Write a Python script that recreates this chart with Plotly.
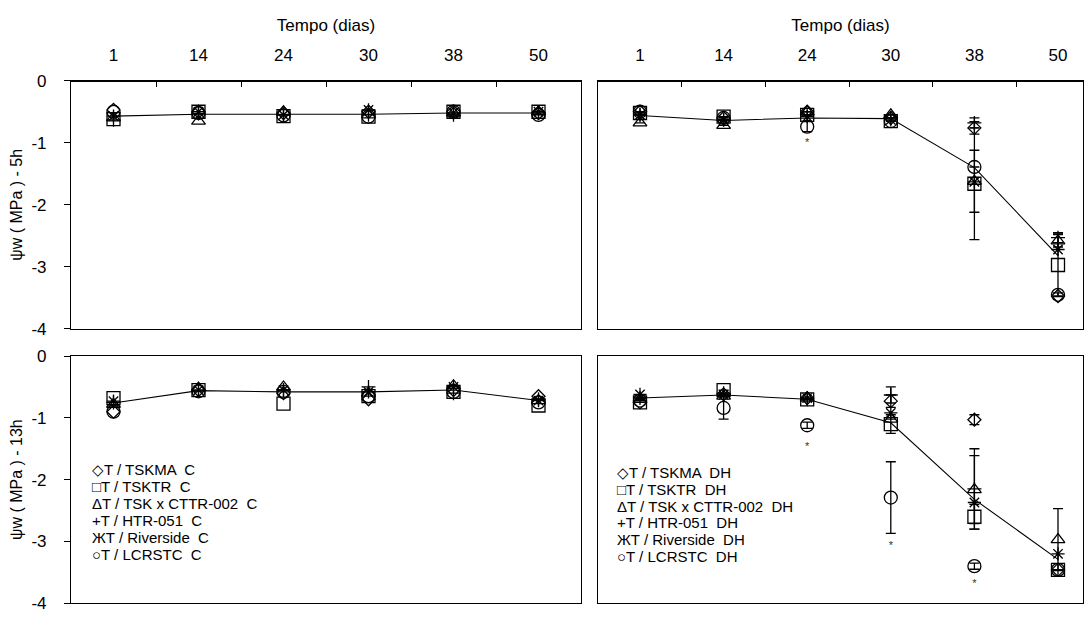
import plotly.graph_objects as go

W, H = 1088, 621
FONT = "Liberation Sans"

days = ["1", "14", "24", "30", "38", "50"]
names = ["T / TSKMA", "T / TSKTR", "T / TSK x CTTR-002", "T / HTR-051", "T / Riverside", "T / LCRSTC"]
legend_glyphs = ["◇", "□", "Δ", "+", "Ж", "○"]
symbols = ["diamond-open", "square-open", "triangle-up-open", "cross-thin-open", "asterisk-open", "circle-open"]
symbol_sizes = [10, 13, 12, 10, 11, 13]
y_ticks = [0, -1, -2, -3, -4]
y_tick_labels = ["0", "-1", "-2", "-3", "-4"]

# ---- 5h, control (C)
tskma_5c = [-0.47, -0.50, -0.52, -0.50, -0.50, -0.52]
tsktr_5c = [-0.62, -0.50, -0.57, -0.58, -0.50, -0.50]
tskx_5c = [-0.60, -0.65, -0.50, -0.55, -0.52, -0.50]
htr_5c = [-0.63, -0.53, -0.55, -0.55, -0.55, -0.52]
river_5c = [-0.57, -0.50, -0.55, -0.47, -0.52, -0.50]
lcr_5c = [-0.50, -0.52, -0.56, -0.58, -0.50, -0.55]
mean_5c = [-0.57, -0.54, -0.54, -0.54, -0.52, -0.52]

# ---- 5h, water deficit (DH)
tskma_5d = [-0.50, -0.60, -0.50, -0.60, -0.76, -3.47]
tsktr_5d = [-0.52, -0.58, -0.55, -0.65, -1.66, -2.97]
tskx_5d = [-0.68, -0.72, -0.50, -0.55, -1.62, -2.58]
htr_5d = [-0.55, -0.63, -0.55, -0.60, -0.68, -2.53]
river_5d = [-0.55, -0.63, -0.58, -0.63, -1.63, -2.72]
lcr_5d = [-0.50, -0.60, -0.74, -0.65, -1.39, -3.45]
mean_5d = [-0.56, -0.64, -0.60, -0.61, -1.40, -2.82]
err_tskma_5d = [0, 0, 0, 0, 0.10, 0]
err_tsktr_5d = [0, 0, 0, 0, 0.90, 0.50]
err_tskx_5d = [0, 0, 0, 0, 0.50, 0.10]
err_htr_5d = [0, 0, 0, 0, 0.08, 0.08]
err_river_5d = [0, 0, 0, 0, 0, 0]
err_lcr_5d = [0, 0, 0.08, 0, 0, 0.03]
sig_5d_days = ["24"]
sig_5d_y = [-1.00]

# ---- 13h, control (C)
tskma_13c = [-0.90, -0.55, -0.60, -0.70, -0.55, -0.65]
tsktr_13c = [-0.68, -0.55, -0.77, -0.65, -0.58, -0.80]
tskx_13c = [-0.78, -0.52, -0.50, -0.60, -0.48, -0.72]
htr_13c = [-0.75, -0.55, -0.55, -0.50, -0.60, -0.70]
river_13c = [-0.73, -0.55, -0.55, -0.58, -0.50, -0.72]
lcr_13c = [-0.90, -0.57, -0.58, -0.65, -0.58, -0.75]
mean_13c = [-0.76, -0.56, -0.58, -0.58, -0.55, -0.72]

# ---- 13h, water deficit (DH)
tskma_13d = [-0.75, -0.62, -0.68, -0.73, -1.03, -3.46]
tsktr_13d = [-0.75, -0.55, -0.70, -1.10, -2.60, -3.46]
tskx_13d = [-0.70, -0.65, -0.68, -1.02, -2.16, -2.97]
htr_13d = [-0.68, -0.60, -0.70, -0.63, -2.15, -3.46]
river_13d = [-0.62, -0.63, -0.68, -0.92, -2.37, -3.20]
lcr_13d = [-0.72, -0.84, -1.12, -2.29, -3.40, -3.46]
mean_13d = [-0.68, -0.63, -0.70, -1.08, -2.32, -3.29]
err_tskma_13d = [0, 0, 0, 0.10, 0.08, 0]
err_tsktr_13d = [0, 0, 0, 0.15, 0.20, 0]
err_tskx_13d = [0, 0, 0, 0, 0.55, 0.50]
err_htr_13d = [0, 0, 0, 0.13, 0.65, 0]
err_river_13d = [0, 0, 0, 0, 0, 0]
err_lcr_13d = [0, 0.18, 0.05, 0.58, 0.05, 0]
sig_13d_days = ["24", "30", "38"]
sig_13d_y = [-1.47, -3.07, -3.70]

panels = [
    dict(xa="x", ya="y", series=[tskma_5c, tsktr_5c, tskx_5c, htr_5c, river_5c, lcr_5c], mean=mean_5c, err=None, sig=None),
    dict(xa="x2", ya="y2", series=[tskma_5d, tsktr_5d, tskx_5d, htr_5d, river_5d, lcr_5d], mean=mean_5d,
         err=[err_tskma_5d, err_tsktr_5d, err_tskx_5d, err_htr_5d, err_river_5d, err_lcr_5d], sig=(sig_5d_days, sig_5d_y)),
    dict(xa="x3", ya="y3", series=[tskma_13c, tsktr_13c, tskx_13c, htr_13c, river_13c, lcr_13c], mean=mean_13c, err=None, sig=None),
    dict(xa="x4", ya="y4", series=[tskma_13d, tsktr_13d, tskx_13d, htr_13d, river_13d, lcr_13d], mean=mean_13d,
         err=[err_tskma_13d, err_tsktr_13d, err_tskx_13d, err_htr_13d, err_river_13d, err_lcr_13d], sig=(sig_13d_days, sig_13d_y)),
]

fig = go.Figure()
xpos = list(range(len(days)))
day_index = {d: i for i, d in enumerate(days)}

for p in panels:
    fig.add_trace(go.Scatter(x=xpos, y=p["mean"], mode="lines", line=dict(color="black", width=1.1),
                             xaxis=p["xa"], yaxis=p["ya"], showlegend=False, hoverinfo="skip"))
    for i, s in enumerate(p["series"]):
        err = None
        if p["err"] is not None and any(v > 0 for v in p["err"][i]):
            err = dict(type="data", array=p["err"][i], visible=True, color="black", thickness=1.3, width=5)
        fig.add_trace(go.Scatter(x=xpos, y=s, mode="markers", name=names[i],
                                 marker=dict(symbol=symbols[i], size=symbol_sizes[i], color="black",
                                             line=dict(color="black", width=1.3)),
                                 error_y=err, xaxis=p["xa"], yaxis=p["ya"], showlegend=False))
    if p["sig"] is not None:
        fig.add_trace(go.Scatter(x=[day_index[d] for d in p["sig"][0]], y=p["sig"][1], mode="text",
                                 text=["*"] * len(p["sig"][0]), textfont=dict(family=FONT, size=11, color="#333333"),
                                 xaxis=p["xa"], yaxis=p["ya"], showlegend=False, hoverinfo="skip"))

def px_x(v):
    return v / W

def px_y(v):
    return 1 - v / H

L0, L1 = 71, 581
R0, R1 = 598, 1083
T0, T1 = 74, 330
B0, B1 = 358, 613
STEP_L, FIRST_L = 85.0, 113.5
STEP_R, FIRST_R = 83.6, 640.0

def xrange(dom0, dom1, first, step):
    return [-(first - dom0) / step, 5 + (dom1 - (first + 5 * step)) / step]

data_x_common = dict(showline=True, mirror=True, linecolor="black", linewidth=1.2, showgrid=False,
                     zeroline=False, showticklabels=False, ticks="")
y_common = dict(range=[-4, 0], tickvals=y_ticks, ticktext=y_tick_labels, showline=True, mirror=True,
                linecolor="black", linewidth=1.2, showgrid=False, zeroline=False, ticks="outside",
                ticklen=6, tickcolor="black", ticklabelstandoff=14,
                tickfont=dict(family=FONT, size=17, color="black"))

top_common = dict(side="top", ticks="", showline=True, linecolor="black", linewidth=1.2, showgrid=False,
                  zeroline=False, tickfont=dict(family=FONT, size=17, color="black"), ticklabelstandoff=13,
                  title=dict(text="Tempo (dias)", font=dict(family=FONT, size=17, color="black"), standoff=8),
                  anchor="free", position=px_y(T0))

ytitle_font = dict(family=FONT, size=16, color="black")

fig.update_layout(
    width=W, height=H, margin=dict(l=0, r=0, t=0, b=0),
    paper_bgcolor="white", plot_bgcolor="rgba(0,0,0,0)", showlegend=False,
    xaxis=dict(domain=[px_x(L0), px_x(L1)], range=xrange(L0, L1, FIRST_L, STEP_L), anchor="y", **data_x_common),
    yaxis=dict(domain=[px_y(T1), px_y(T0)], anchor="x",
               title=dict(text="ψw ( MPa ) - 5h", font=ytitle_font, standoff=4), **y_common),
    xaxis2=dict(domain=[px_x(R0), px_x(R1)], range=xrange(R0, R1, FIRST_R, STEP_R), anchor="y2", **data_x_common),
    yaxis2=dict(domain=[px_y(T1), px_y(T0)], anchor="x2", **{**y_common, "showticklabels": False, "ticks": ""}),
    xaxis3=dict(domain=[px_x(L0), px_x(L1)], range=xrange(L0, L1, FIRST_L, STEP_L), anchor="y3", **data_x_common),
    yaxis3=dict(domain=[px_y(B1), px_y(B0)], anchor="x3",
                title=dict(text="ψw ( MPa ) - 13h", font=ytitle_font, standoff=4), **y_common),
    xaxis4=dict(domain=[px_x(R0), px_x(R1)], range=xrange(R0, R1, FIRST_R, STEP_R), anchor="y4", **data_x_common),
    yaxis4=dict(domain=[px_y(B1), px_y(B0)], anchor="x4", **{**y_common, "showticklabels": False, "ticks": ""}),
    # top category axes (labels centred on cells, tick marks on cell boundaries)
    xaxis5=dict(domain=[px_x(L0), px_x(L1)], overlaying="x",
                range=[-(FIRST_L - L0) / STEP_L, (L1 - FIRST_L) / STEP_L],
                tickvals=xpos, ticktext=days,
                minor=dict(tickvals=[k + 0.5 for k in xpos[:-1]], ticks="inside", ticklen=5, tickcolor="black"),
                **top_common),
    xaxis6=dict(domain=[px_x(R0), px_x(R1)], overlaying="x2",
                range=[-(FIRST_R - R0) / STEP_R, (R1 - FIRST_R) / STEP_R],
                tickvals=xpos, ticktext=days,
                minor=dict(tickvals=[k + 0.5 for k in xpos[:-1]], ticks="inside", ticklen=5, tickcolor="black"),
                **top_common),
)

fig.add_trace(go.Scatter(x=[None], y=[None], xaxis="x5", yaxis="y", showlegend=False, hoverinfo="skip"))
fig.add_trace(go.Scatter(x=[None], y=[None], xaxis="x6", yaxis="y2", showlegend=False, hoverinfo="skip"))

annotations = []
for k in range(6):
    annotations.append(dict(text=f"{legend_glyphs[k]}{names[k]}  C", x=px_x(90), y=px_y(475 + 17.6 * k),
                            xref="paper", yref="paper", xanchor="left", yanchor="middle", showarrow=False,
                            font=dict(family=FONT, size=15, color="black")))
    annotations.append(dict(text=f"{legend_glyphs[k]}{names[k]}  DH", x=px_x(615), y=px_y(478 + 17.4 * k),
                            xref="paper", yref="paper", xanchor="left", yanchor="middle", showarrow=False,
                            font=dict(family=FONT, size=15, color="black")))
fig.update_layout(annotations=annotations)

fig.write_html("out.html")
